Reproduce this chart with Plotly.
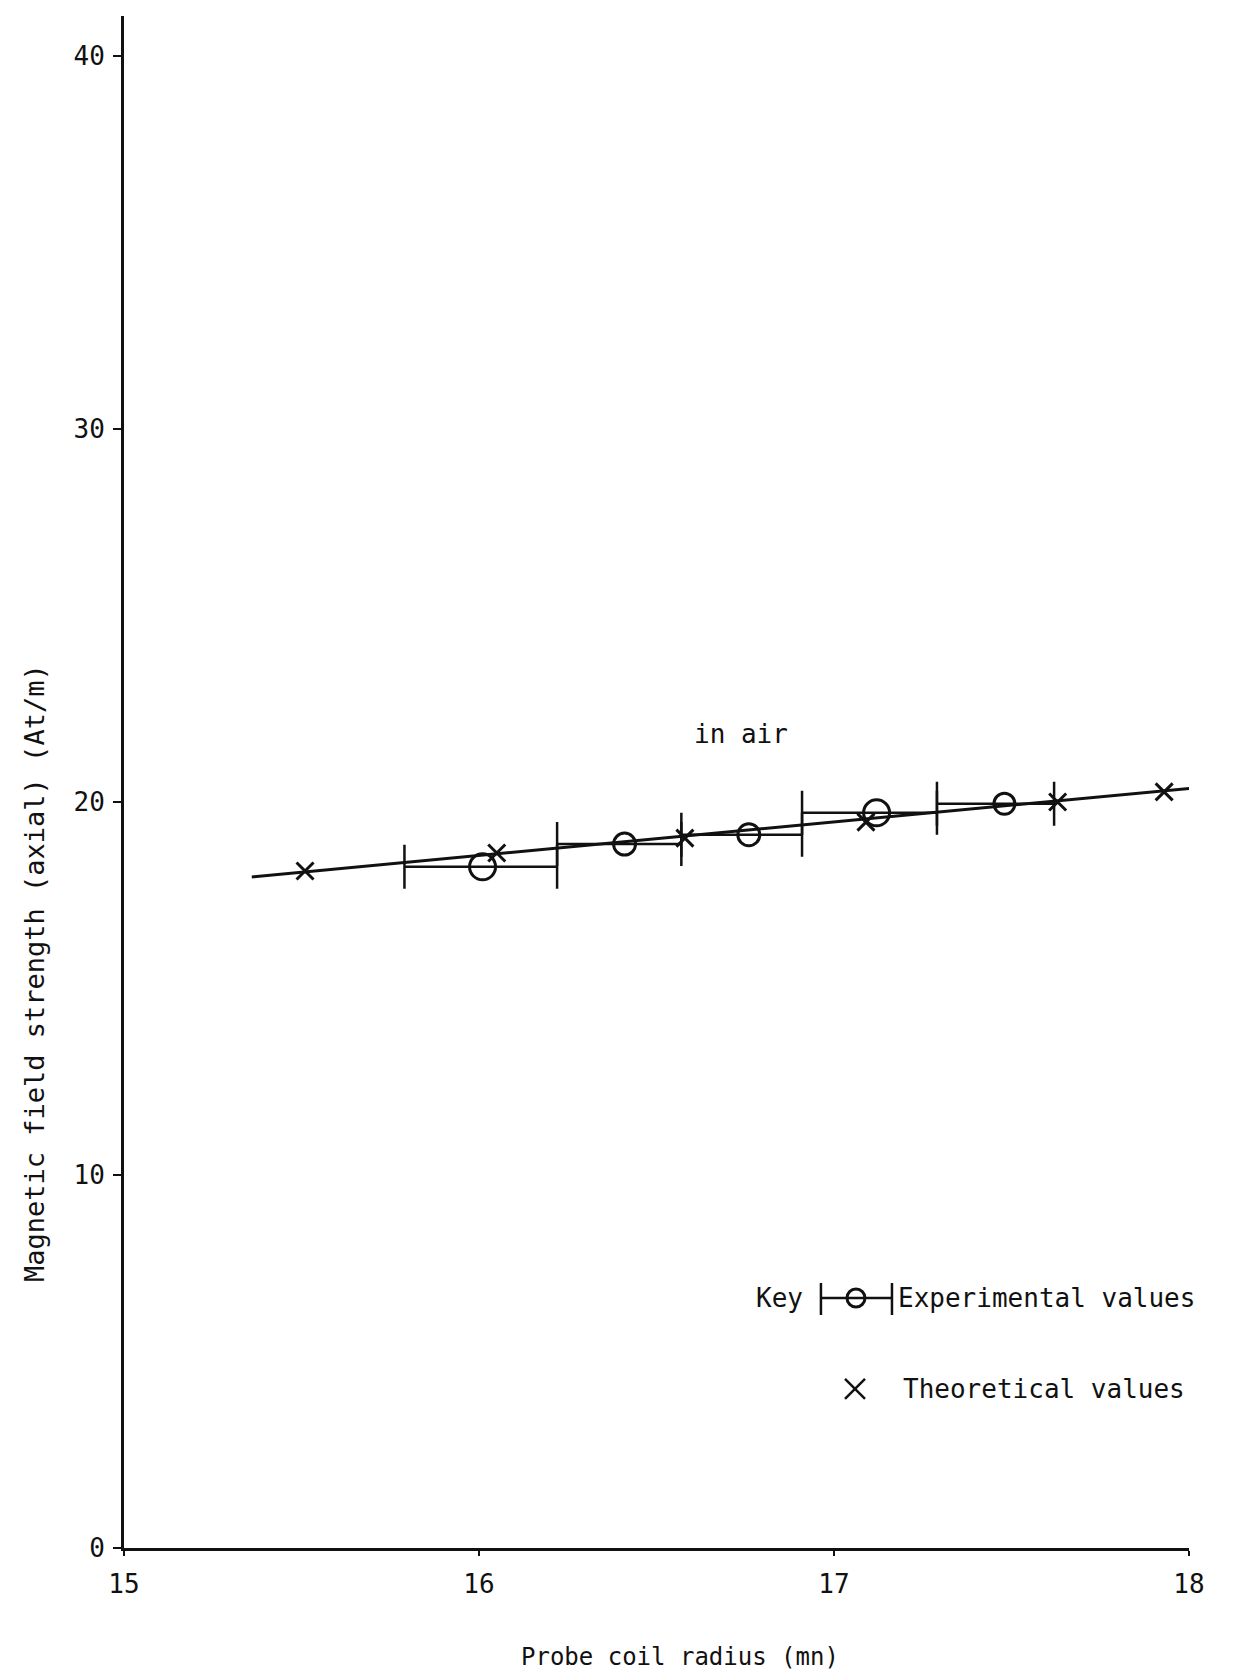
import plotly.graph_objects as go

# ---- data ----
theory_x = [15.51, 16.05, 16.58, 17.09, 17.63, 17.93]
theory_y = [18.15, 18.63, 19.03, 19.46, 20.00, 20.27]

exp_x = [16.01, 16.41, 16.76, 17.12, 17.48]
exp_y = [18.26, 18.87, 19.12, 19.71, 19.95]
exp_lo = [15.79, 16.22, 16.57, 16.91, 17.29]   # left end of horizontal range bar
exp_hi = [16.22, 16.57, 16.91, 17.29, 17.62]   # right end of horizontal range bar
exp_size = [26, 22, 22, 26, 21]

fit_x = [15.36, 18.13]
fit_y = [17.99, 20.48]

x_ticks = [15, 16, 17, 18]
y_ticks = [0, 10, 20, 30, 40]

FONT = "DejaVu Sans Mono"
BLACK = "#111111"

err_plus = [h - x for h, x in zip(exp_hi, exp_x)]
err_minus = [x - l for l, x in zip(exp_lo, exp_x)]

fig = go.Figure()

fig.add_trace(go.Scatter(
    x=fit_x, y=fit_y, mode="lines",
    line=dict(color=BLACK, width=3), showlegend=False, hoverinfo="skip"))

fig.add_trace(go.Scatter(
    x=exp_x, y=exp_y, mode="markers",
    marker=dict(symbol="circle-open", size=exp_size, color=BLACK, opacity=1,
                line=dict(color=BLACK, width=3)),
    error_x=dict(type="data", symmetric=False, array=err_plus, arrayminus=err_minus,
                 color=BLACK, thickness=2.5, width=22),
    showlegend=False, name="Experimental values"))

fig.add_trace(go.Scatter(
    x=theory_x, y=theory_y, mode="markers",
    marker=dict(symbol="x-thin-open", size=17, color=BLACK, opacity=1,
                line=dict(color=BLACK, width=3)),
    showlegend=False, name="Theoretical values"))

# ---- key (drawn in paper coordinates) ----
shapes = []
ky = 0.1632
shapes.append(dict(type="line", xref="paper", yref="paper", x0=0.6544, x1=0.7211,
                   y0=ky, y1=ky, line=dict(color=BLACK, width=2.5)))
for cx in (0.6544, 0.7211):
    shapes.append(dict(type="line", xref="paper", yref="paper", x0=cx, x1=cx,
                       y0=0.1521, y1=0.1730, line=dict(color=BLACK, width=2.5)))
shapes.append(dict(type="circle", xref="paper", yref="paper",
                   xsizemode="pixel", ysizemode="pixel",
                   xanchor=0.6873, yanchor=ky, x0=-9, x1=9, y0=-9, y1=9,
                   line=dict(color=BLACK, width=3)))
tx, ty = 0.6864, 0.1038
for d in (1, -1):
    shapes.append(dict(type="line", xref="paper", yref="paper",
                       xsizemode="pixel", ysizemode="pixel",
                       xanchor=tx, yanchor=ty, x0=-10, x1=10, y0=-10 * d, y1=10 * d,
                       line=dict(color=BLACK, width=2.5)))

def note(text, x, y, xref="paper", yref="paper", xanchor="center", angle=0, size=26):
    return dict(text=text, x=x, y=y, xref=xref, yref=yref, xanchor=xanchor,
                yanchor="middle", textangle=angle, showarrow=False,
                font=dict(family=FONT, size=size, color=BLACK))

annotations = [
    note("in air", 16.738, 21.81, xref="x", yref="y"),
    note("Key", 0.6394, ky, xanchor="right"),
    note("Experimental values", 0.7249, ky, xanchor="left"),
    note("Theoretical values", 0.7300, ty, xanchor="left"),
    note("Magnetic field strength (axial) (At/m)", -0.0845, 0.3753, angle=-90, size=27),
    note("Probe coil radius (mn)", 0.522, -0.0711, size=24),
]

fig.update_layout(
    width=1236, height=1672,
    margin=dict(l=124, r=47, t=16, b=124),
    paper_bgcolor="white", plot_bgcolor="white",
    shapes=shapes, annotations=annotations,
    xaxis=dict(range=[15, 18], tickvals=x_ticks, showgrid=False, zeroline=False,
               showline=True, linecolor=BLACK, linewidth=3,
               ticks="outside", ticklen=5, tickwidth=2, tickcolor=BLACK,
               ticklabelstandoff=6,
               tickfont=dict(family=FONT, size=26, color=BLACK)),
    yaxis=dict(range=[0, 41.07], tickvals=y_ticks, showgrid=False, zeroline=False,
               showline=True, linecolor=BLACK, linewidth=3,
               ticks="outside", ticklen=8, tickwidth=2, tickcolor=BLACK,
               ticklabelstandoff=3,
               tickfont=dict(family=FONT, size=26, color=BLACK)),
)

fig.write_html("out.html")
